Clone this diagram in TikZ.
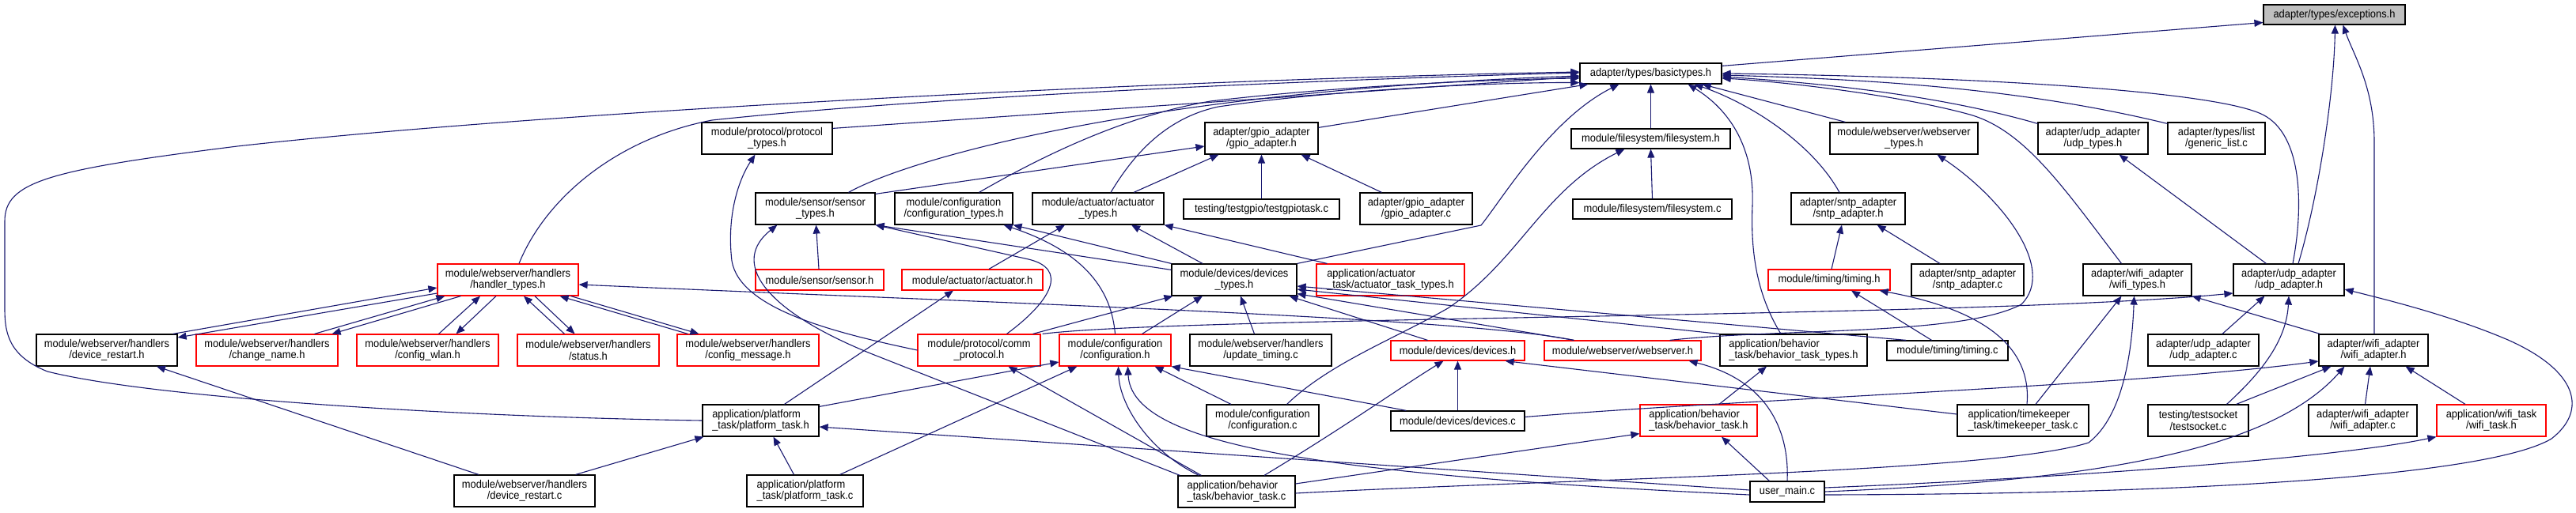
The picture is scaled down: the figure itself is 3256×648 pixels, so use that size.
\documentclass[tikz,border=0pt]{standalone}
\usepackage{fontspec}
\setmainfont{Liberation Sans}[FakeStretch=0.92]
\usetikzlibrary{arrows.meta,calc}
\definecolor{edgeblue}{HTML}{191970}
\definecolor{nodered}{HTML}{FF0000}
\definecolor{nodegray}{HTML}{BFBFBF}
\tikzset{
  nbase/.style={rectangle, inner sep=0pt, align=center, font=\fontsize{7}{7.3}\selectfont, line width=0.6pt},
  bbox/.style={nbase, draw=black, fill=white},
  rbox/.style={nbase, draw=nodered, fill=white},
  gbox/.style={nbase, draw=black, fill=nodegray},
  lft/.style={align=left},
  dep/.style={draw=edgeblue, line width=0.55pt, -{Triangle[length=5.5pt,width=4.5pt]}}
}
\newcommand{\mknode}[7]{%
  \pgfmathsetmacro\mkw{(#3-#2)*0.5}%
  \pgfmathsetmacro\mkh{(#5-#4)*0.5}%
  \node[#6, minimum width=\mkw pt, minimum height=\mkh pt] (#1) at ({(#2+#3)/2},{(#4+#5)/2}) {#7};}
\begin{document}
\begin{tikzpicture}[x=0.5pt,y=-0.5pt]
\fill[white] (0,0) rectangle (3256,648);
\useasboundingbox (0,0) rectangle (3256,648);
% ---- nodes
\mknode{exc}{2861}{3040}{6}{31}{gbox}{adapter/types/exceptions.h}
\mknode{basic}{1997}{2176}{80}{106}{bbox}{adapter/types/basictypes.h}
\mknode{prott}{887}{1052}{155}{195}{bbox}{module/protocol/protocol\\\_types.h}
\mknode{gpioh}{1523}{1666}{155}{195}{bbox}{adapter/gpio\_adapter\\/gpio\_adapter.h}
\mknode{fsh}{1986}{2187}{163}{188}{bbox}{module/filesystem/filesystem.h}
\mknode{wst}{2313}{2500}{155}{195}{bbox}{module/webserver/webserver\\\_types.h}
\mknode{udpt}{2576}{2715}{155}{195}{bbox}{adapter/udp\_adapter\\/udp\_types.h}
\mknode{glist}{2740}{2863}{155}{195}{bbox}{adapter/types/list\\/generic\_list.c}
\mknode{sent}{955}{1106}{244}{284}{bbox}{module/sensor/sensor\\\_types.h}
\mknode{conft}{1131}{1280}{244}{284}{bbox}{module/configuration\\/configuration\_types.h}
\mknode{actt}{1305}{1471}{244}{284}{bbox}{module/actuator/actuator\\\_types.h}
\mknode{tgpio}{1496}{1693}{252}{277}{bbox}{testing/testgpio/testgpiotask.c}
\mknode{gpioc}{1719}{1861}{244}{284}{bbox}{adapter/gpio\_adapter\\/gpio\_adapter.c}
\mknode{fsc}{1988}{2189}{252}{277}{bbox}{module/filesystem/filesystem.c}
\mknode{sntph}{2264}{2408}{244}{284}{bbox}{adapter/sntp\_adapter\\/sntp\_adapter.h}
\mknode{handt}{553}{731}{334}{374}{rbox}{module/webserver/handlers\\/handler\_types.h}
\mknode{senh}{955}{1117}{341}{367}{rbox}{module/sensor/sensor.h}
\mknode{acth}{1140}{1318}{341}{367}{rbox}{module/actuator/actuator.h}
\mknode{devt}{1481}{1639}{334}{374}{bbox}{module/devices/devices\\\_types.h}
\mknode{atask}{1664}{1851}{334}{374}{rbox,lft}{application/actuator\\\_task/actuator\_task\_types.h}
\mknode{timh}{2235}{2389}{341}{367}{rbox}{module/timing/timing.h}
\mknode{sntpc}{2416}{2558}{334}{374}{bbox}{adapter/sntp\_adapter\\/sntp\_adapter.c}
\mknode{wifit}{2633}{2770}{334}{374}{bbox}{adapter/wifi\_adapter\\/wifi\_types.h}
\mknode{udph}{2823}{2963}{334}{374}{bbox}{adapter/udp\_adapter\\/udp\_adapter.h}
\mknode{drh}{46}{224}{423}{463}{bbox}{module/webserver/handlers\\/device\_restart.h}
\mknode{cnh}{248}{427}{423}{463}{rbox}{module/webserver/handlers\\/change\_name.h}
\mknode{cwh}{451}{630}{423}{463}{rbox}{module/webserver/handlers\\/config\_wlan.h}
\mknode{sth}{654}{833}{423}{463}{rbox}{module/webserver/handlers\\/status.h}
\mknode{cmh}{856}{1035}{423}{463}{rbox}{module/webserver/handlers\\/config\_message.h}
\mknode{commh}{1160}{1315}{423}{463}{rbox}{module/protocol/comm\\\_protocol.h}
\mknode{confh}{1339}{1480}{423}{463}{rbox}{module/configuration\\/configuration.h}
\mknode{updc}{1504}{1683}{423}{463}{bbox}{module/webserver/handlers\\/update\_timing.c}
\mknode{devh}{1758}{1927}{431}{456}{rbox}{module/devices/devices.h}
\mknode{wsh}{1952}{2150}{431}{456}{rbox}{module/webserver/webserver.h}
\mknode{btt}{2174}{2360}{423}{463}{bbox,lft}{application/behavior\\\_task/behavior\_task\_types.h}
\mknode{timc}{2385}{2538}{431}{456}{bbox}{module/timing/timing.c}
\mknode{udpc}{2715}{2855}{423}{463}{bbox}{adapter/udp\_adapter\\/udp\_adapter.c}
\mknode{wifih}{2931}{3069}{423}{463}{bbox}{adapter/wifi\_adapter\\/wifi\_adapter.h}
\mknode{pth}{888}{1035}{512}{552}{bbox,lft}{application/platform\\\_task/platform\_task.h}
\mknode{confc}{1525}{1667}{512}{552}{bbox}{module/configuration\\/configuration.c}
\mknode{devc}{1758}{1927}{520}{545}{bbox}{module/devices/devices.c}
\mknode{bth}{2073}{2221}{512}{552}{rbox,lft}{application/behavior\\\_task/behavior\_task.h}
\mknode{tkc}{2474}{2640}{512}{552}{bbox,lft}{application/timekeeper\\\_task/timekeeper\_task.c}
\mknode{tsc}{2715}{2842}{512}{552}{bbox}{testing/testsocket\\/testsocket.c}
\mknode{wac}{2918}{3055}{512}{552}{bbox}{adapter/wifi\_adapter\\/wifi\_adapter.c}
\mknode{wth}{3080}{3218}{512}{552}{rbox}{application/wifi\_task\\/wifi\_task.h}
\mknode{drc}{574}{752}{601}{641}{bbox}{module/webserver/handlers\\/device\_restart.c}
\mknode{ptc}{944}{1091}{601}{641}{bbox,lft}{application/platform\\\_task/platform\_task.c}
\mknode{btc}{1489}{1637}{602}{642}{bbox,lft}{application/behavior\\\_task/behavior\_task.c}
\mknode{umc}{2212}{2306}{609}{635}{bbox}{user\_main.c}
% ---- edges into exceptions.h
\draw[dep] ($(basic.north east)+(0,4)$) -- ($(exc.west)+(0,10)$);
\draw[dep] ($(udph.north)+(12,0)$) .. controls (2930,250) and (2950,120) .. ($(exc.south)+(1,0)$);
\draw[dep] ($(wifih.north)+(1,0)$) -- (3001,180) .. controls (3001,110) and (2975,70) .. ($(exc.south)+(11,0)$);
% ---- edges into basictypes.h
\draw[dep] (pth.west) .. controls (600,528) and (200,505) .. (60,470) .. controls (10,450) and (6,420) .. (6,390) -- (6,280) .. controls (6,230) and (60,215) .. (300,185) .. controls (700,140) and (1500,100) .. ($(basic.west)+(0,-2)$);
\draw[dep] ($(handt.north)+(14,0)$) .. controls (690,250) and (780,175) .. (900,152) .. controls (1200,120) and (1700,100) .. ($(basic.west)+(0,-1)$);
\draw[dep] ($(prott.north east)+(0,8)$) -- ($(basic.west)+(0,4)$);
\draw[dep] ($(sent.north)+(42,0)$) .. controls (1150,200) and (1450,115) .. ($(basic.west)+(0,3)$);
\draw[dep] ($(conft.north)+(32,0)$) .. controls (1330,190) and (1430,145) .. (1530,128) .. controls (1700,108) and (1900,100) .. ($(basic.west)+(0,6)$);
\draw[dep] ($(actt.north)+(16,0)$) .. controls (1430,200) and (1470,150) .. (1540,135) .. controls (1700,112) and (1900,104) .. ($(basic.south west)+(0,-2)$);
\draw[dep] ($(gpioh.north east)+(0,7)$) -- ($(basic.south west)+(11,0)$);
\draw[dep] (devt.north east) -- (1872,285) .. controls (1900,250) and (1960,150) .. ($(basic.south west)+(50,0)$);
\draw[dep] (fsh.north) -- (basic.south);
\draw[dep] ($(btt.north)+(-16,0)$) .. controls (2225,380) and (2212,330) .. (2215,260) .. controls (2218,180) and (2180,135) .. ($(basic.south east)+(-43,0)$);
\draw[dep] ($(sntph.north)+(-11,0)$) .. controls (2290,180) and (2210,130) .. ($(basic.south east)+(-35,0)$);
\draw[dep] ($(wst.north west)+(20,0)$) -- ($(basic.south east)+(-25,0)$);
\draw[dep] ($(udpt.north west)+(0,2)$) .. controls (2450,120) and (2300,105) .. ($(basic.east)+(0,4)$);
\draw[dep] ($(glist.north west)+(0,2)$) .. controls (2550,110) and (2350,100) .. ($(basic.east)+(0,2)$);
\draw[dep] ($(wifit.north)+(-20,0)$) .. controls (2610,240) and (2560,165) .. (2490,145) .. controls (2400,120) and (2250,103) .. ($(basic.east)+(0,6)$);
\draw[dep] ($(udph.north)+(5,0)$) .. controls (2912,260) and (2910,170) .. (2860,145) .. controls (2800,115) and (2500,97) .. (basic.east);
% ---- gpio_adapter.h
\draw[dep] ($(sent.north east)+(0,2)$) -- ($(gpioh.west)+(0,10)$);
\draw[dep] ($(actt.north)+(45,0)$) -- ($(gpioh.south west)+(18,0)$);
\draw[dep] (tgpio.north) -- (gpioh.south);
\draw[dep] ($(gpioc.north west)+(28,0)$) -- ($(gpioh.south east)+(-22,0)$);
% ---- filesystem.h
\draw[dep] (fsc.north) -- (fsh.south);
\draw[dep] ($(confc.north east)+(-41,0)$) .. controls (1680,460) and (1760,430) .. (1830,390) .. controls (1920,330) and (1950,240) .. ($(fsh.south west)+(68,0)$);
% ---- protocol_types.h
\draw[dep] (commh.west) .. controls (1050,420) and (935,390) .. (925,330) .. controls (918,270) and (935,225) .. ($(prott.south)+(-15,0)$);
% ---- sensor_types.h
\draw[dep] ($(senh.north)+(-1,0)$) -- ($(sent.south)+(1,0)$);
\draw[dep] ($(devt.north west)+(0,8)$) -- (sent.south east);
\draw[dep] ($(commh.north)+(35,0)$) .. controls (1330,380) and (1350,340) .. (1300,328) -- (sent.south east);
\draw[dep] ($(btc.north west)+(3,0)$) -- (1100,447) .. controls (960,390) and (925,330) .. ($(sent.south west)+(28,0)$);
% ---- configuration_types.h
\draw[dep] (confh.north) .. controls (1405,370) and (1375,320) .. ($(conft.south east)+(-12,0)$);
\draw[dep] (devt.north west) -- (conft.south east);
% ---- actuator_types.h
\draw[dep] ($(acth.north)+(21,0)$) -- ($(actt.south)+(-42,0)$);
\draw[dep] ($(devt.north)+(-40,0)$) -- ($(actt.south)+(42,0)$);
\draw[dep] ($(atask.north west)+(14,0)$) -- (actt.south east);
% ---- sntp_adapter.h
\draw[dep] ($(timh.north)+(3,0)$) -- ($(sntph.south)+(-8,0)$);
\draw[dep] ($(sntpc.north)+(-35,0)$) -- ($(sntph.south east)+(-36,0)$);
% ---- webserver_types.h
\draw[dep] ($(wsh.north east)+(-40,0)$) .. controls (2250,415) and (2480,425) .. (2555,385) .. controls (2600,340) and (2530,250) .. ($(wst.south)+(42,0)$);
% ---- udp_types.h
\draw[dep] ($(udph.north west)+(42,0)$) -- ($(udpt.south)+(33,0)$);
% ---- wifi_types.h
\draw[dep] ($(wifih.north west)+(2,0)$) -- (wifit.south east);
\draw[dep] ($(tkc.north)+(16,0)$) -- ($(wifit.south)+(-20,0)$);
\draw[dep] ($(btc.east)+(0,2)$) .. controls (2000,605) and (2520,598) .. (2640,560) .. controls (2685,525) and (2695,440) .. ($(wifit.south)+(-4,0)$);
% ---- udp_adapter.h
\draw[dep] ($(commh.north east)+(2,0)$) .. controls (1500,400) and (2500,402) .. ($(udph.west)+(0,17)$);
\draw[dep] ($(udpc.north)+(24,0)$) -- ($(udph.south west)+(40,0)$);
\draw[dep] ($(tsc.north)+(36,0)$) .. controls (2860,470) and (2890,430) .. (udph.south);
\draw[dep] ($(umc.east)+(0,4)$) .. controls (2800,625) and (3150,600) .. (3225,555) .. controls (3270,520) and (3260,470) .. (3170,430) .. controls (3100,400) and (3020,380) .. ($(udph.east)+(0,12)$);
% ---- handler_types.h and its handlers (mutual includes)
\draw[dep] ($(drh.north east)+(-6,0)$) -- ($(handt.west)+(0,10)$);
\draw[dep] ($(handt.west)+(0,17)$) -- ($(drh.east)+(0,-16)$);
\draw[dep] ($(cnh.north)+(60,0)$) -- ($(handt.south west)+(10,0)$);
\draw[dep] ($(handt.south west)+(30,0)$) -- ($(cnh.north east)+(-8,0)$);
\draw[dep] ($(cwh.north)+(14,0)$) -- ($(handt.south)+(-35,0)$);
\draw[dep] ($(handt.south)+(-15,0)$) -- ($(cwh.north)+(36,0)$);
\draw[dep] ($(sth.north)+(-30,0)$) -- ($(handt.south)+(20,0)$);
\draw[dep] ($(handt.south)+(34,0)$) -- ($(sth.north)+(-17,0)$);
\draw[dep] ($(cmh.north west)+(14,0)$) -- ($(handt.south east)+(-24,0)$);
\draw[dep] ($(handt.south east)+(-10,0)$) -- ($(cmh.north west)+(28,0)$);
\draw[dep] ($(wsh.north west)+(38,0)$) .. controls (1850,402) and (1300,385) .. ($(handt.east)+(0,6)$);
% ---- devices_types.h
\draw[dep] ($(commh.north east)+(-10,0)$) -- ($(devt.south west)+(2,0)$);
\draw[dep] ($(confh.north east)+(-37,0)$) -- ($(devt.south)+(-40,0)$);
\draw[dep] ($(updc.north)+(-8,0)$) -- ($(devt.south)+(8,0)$);
\draw[dep] ($(devh.north)+(-38,0)$) -- ($(devt.south east)+(-10,0)$);
\draw[dep] ($(wsh.north west)+(38,0)$) -- ($(devt.south east)+(0,-3)$);
\draw[dep] (btt.north west) -- ($(devt.east)+(0,12)$);
\draw[dep] ($(timc.north west)+(25,0)$) -- ($(devt.east)+(0,8)$);
% ---- actuator.h
\draw[dep] ($(pth.north)+(30,0)$) -- ($(acth.south)+(-24,0)$);
% ---- timing.h
\draw[dep] ($(timc.north)+(-20,0)$) -- ($(timh.south)+(28,0)$);
\draw[dep] ($(tkc.north)+(5,0)$) .. controls (2570,420) and (2470,385) .. ($(timh.south east)+(-14,0)$);
% ---- device_restart.h
\draw[dep] ($(drc.north)+(-58,0)$) -- ($(drh.south)+(63,0)$);
% ---- platform_task.h
\draw[dep] ($(drc.north east)+(-25,0)$) -- ($(pth.south west)+(2,0)$);
\draw[dep] ($(ptc.north)+(-14,0)$) -- ($(pth.south)+(16,0)$);
\draw[dep] ($(umc.west)+(0,-2)$) -- ($(pth.east)+(0,8)$);
% ---- configuration.h
\draw[dep] ($(pth.north east)+(0,3)$) -- ($(confh.west)+(0,15)$);
\draw[dep] ($(ptc.north east)+(-30,0)$) -- ($(confh.south west)+(23,0)$);
\draw[dep] ($(btc.north west)+(27,0)$) .. controls (1450,570) and (1415,510) .. ($(confh.south)+(4,0)$);
\draw[dep] ($(umc.west)+(0,4)$) .. controls (1650,600) and (1430,560) .. ($(confh.south)+(16,0)$);
\draw[dep] ($(confc.north)+(-40,0)$) -- ($(confh.south east)+(-21,0)$);
\draw[dep] ($(devc.north west)+(20,0)$) -- (confh.south east);
% ---- comm_protocol.h
\draw[dep] ($(btc.north west)+(30,0)$) -- ($(commh.south)+(37,0)$);
% ---- devices.h
\draw[dep] (devc.north) -- (devh.south);
\draw[dep] ($(btc.north)+(35,0)$) .. controls (1700,540) and (1770,490) .. ($(devh.south)+(-18,0)$);
\draw[dep] ($(tkc.west)+(0,-8)$) -- ($(devh.south east)+(-25,0)$);
% ---- webserver.h
\draw[dep] (umc.north) .. controls (2262,540) and (2230,480) .. ($(wsh.south east)+(-16,0)$);
% ---- behavior_task_types.h
\draw[dep] ($(bth.north)+(26,0)$) -- ($(btt.south)+(-34,0)$);
% ---- behavior_task.h
\draw[dep] ($(btc.east)+(0,-10)$) -- ($(bth.south west)+(0,-4)$);
\draw[dep] ($(umc.north west)+(25,0)$) -- ($(bth.south)+(29,0)$);
% ---- wifi_adapter.h
\draw[dep] ($(devc.east)+(0,-5)$) .. controls (2200,505) and (2700,488) .. ($(wifih.west)+(0,14)$);
\draw[dep] ($(tsc.north east)+(-16,0)$) -- ($(wifih.south west)+(16,0)$);
\draw[dep] ($(wac.north)+(3,0)$) -- ($(wifih.south)+(-4,0)$);
\draw[dep] ($(wth.north)+(-33,0)$) -- ($(wifih.south east)+(-29,0)$);
\draw[dep] (umc.east) .. controls (2650,608) and (2870,570) .. ($(wifih.south west)+(33,0)$);
% ---- wifi_task.h
\draw[dep] ($(umc.east)+(0,-5)$) .. controls (2600,605) and (2950,580) .. (wth.south west);
\end{tikzpicture}
\end{document}
